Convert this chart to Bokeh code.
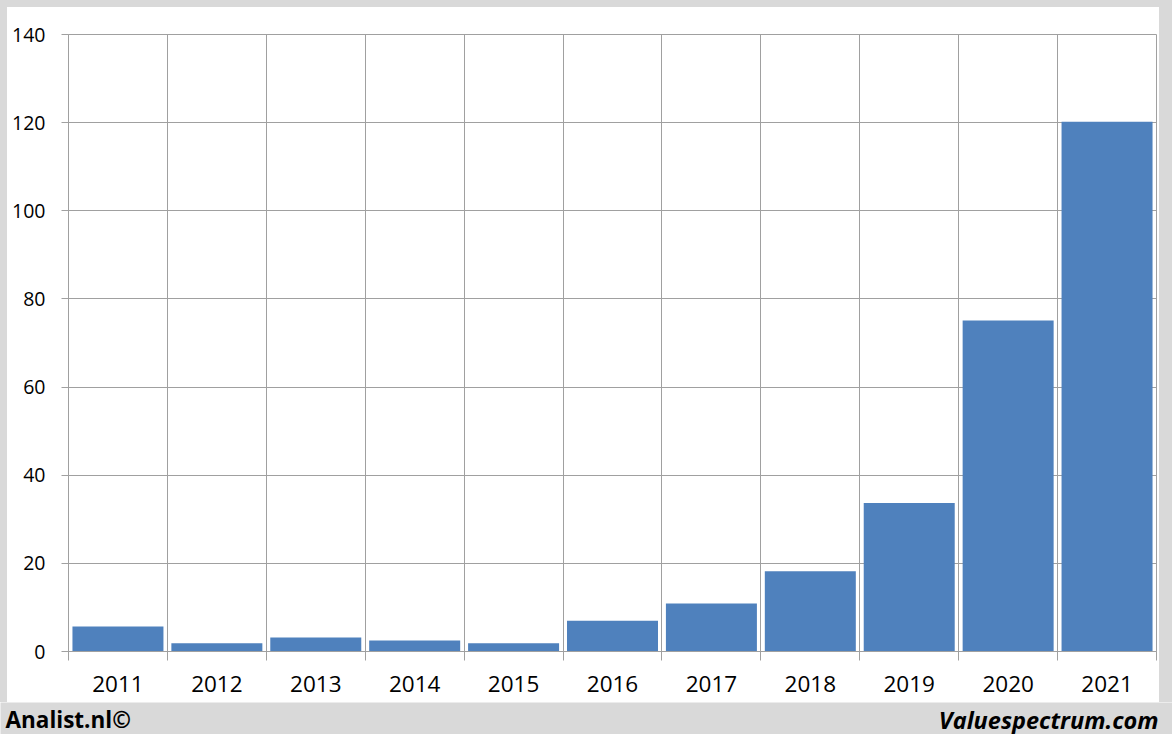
from bokeh.plotting import figure
from bokeh.models import FixedTicker, Label, ColumnDataSource, Spacer, Range1d
from bokeh.layouts import column, row
from bokeh.embed import file_html
from bokeh.resources import INLINE

# ---- data ----
years = ["2011", "2012", "2013", "2014", "2015", "2016", "2017", "2018", "2019", "2020", "2021"]
values = [5.7, 1.9, 3.2, 2.5, 1.9, 7.0, 10.9, 18.2, 33.7, 75.1, 120.2]
y_ticks = [0, 20, 40, 60, 80, 100, 120, 140]
left_note = "Analist.nl©"
right_note = "Valuespectrum.com"

# ---- layout constants (pixels) ----
PAGE_W, PAGE_H = 1172, 734
EDGE_L, EDGE_T, EDGE_R, FOOT_H = 7, 7, 13, 32
W = PAGE_W - EDGE_L - EDGE_R          # main chart panel width
H = PAGE_H - EDGE_T - FOOT_H          # main chart panel height
FRAME_L, FRAME_T, FRAME_R, FRAME_B = 61, 27, 3, 51
Y_MAX = y_ticks[-1]
n = len(years)

GRID = "#a0a0a0"
BAR = "#4f81bd"
GRAY = "#d9d9d9"
FONT = "Open Sans"
gray_style = {"background-color": GRAY}

p = figure(width=W, height=H, x_range=(-0.5, n - 0.5), y_range=(0, Y_MAX),
           output_backend="svg", toolbar_location=None,
           min_border_left=FRAME_L, min_border_right=FRAME_R,
           min_border_top=FRAME_T, min_border_bottom=FRAME_B,
           border_fill_color="white", background_fill_color="white",
           outline_line_color=GRID)

src = ColumnDataSource(dict(x=list(range(n)), top=values, year=years))
p.vbar(x="x", top="top", width=0.92, source=src, fill_color=BAR, line_color=None)

boundaries = [i - 0.5 for i in range(n + 1)]

# x axis
p.xaxis.ticker = FixedTicker(ticks=list(range(n)), minor_ticks=boundaries)
p.xaxis.major_label_overrides = {i: y for i, y in enumerate(years)}
p.xaxis.major_tick_out = 0
p.xaxis.major_tick_in = 0
p.xaxis.minor_tick_out = 9
p.xaxis.minor_tick_in = 0
p.xaxis.minor_tick_line_color = GRID
p.xaxis.axis_line_color = GRID
p.xaxis.major_label_standoff = 15
p.xaxis.major_label_text_font = FONT
p.xaxis.major_label_text_font_size = "22.5px"
p.xaxis.major_label_text_color = "black"

# y axis
p.yaxis.ticker = FixedTicker(ticks=y_ticks)
p.yaxis.major_tick_out = 7
p.yaxis.major_tick_in = 0
p.yaxis.minor_tick_out = 0
p.yaxis.minor_tick_in = 0
p.yaxis.major_tick_line_color = GRID
p.yaxis.axis_line_color = GRID
p.yaxis.major_label_standoff = 16
p.yaxis.major_label_text_font = FONT
p.yaxis.major_label_text_font_size = "19.5px"
p.yaxis.major_label_text_color = "black"

# grids
p.xgrid.ticker = FixedTicker(ticks=boundaries)
p.xgrid.grid_line_color = GRID
p.ygrid.grid_line_color = GRID

# footer strip as its own small figure (pixel coordinates)
foot = figure(width=PAGE_W, height=FOOT_H, x_range=Range1d(0, PAGE_W),
              y_range=Range1d(FOOT_H, 0), output_backend="svg",
              toolbar_location=None, x_axis_type=None, y_axis_type=None,
              min_border=0, min_border_left=0, min_border_right=0,
              min_border_top=0, min_border_bottom=0,
              background_fill_color=GRAY, border_fill_color=GRAY,
              outline_line_color=None)
foot.xgrid.visible = False
foot.ygrid.visible = False
foot.add_layout(Label(x=5, y=17, text=left_note,
                      text_align="left", text_baseline="middle",
                      text_font=FONT, text_font_size="22.5px",
                      text_font_style="bold", text_color="black"))
foot.add_layout(Label(x=1158, y=17, text=right_note,
                      text_align="right", text_baseline="middle",
                      text_font=FONT, text_font_size="23.5px",
                      text_font_style="bold italic", text_color="black"))

page = column(
    Spacer(width=PAGE_W, height=EDGE_T, styles=gray_style),
    row(Spacer(width=EDGE_L, height=H, styles=gray_style), p,
        Spacer(width=EDGE_R, height=H, styles=gray_style), spacing=0),
    foot,
    spacing=0,
)

open("out.html", "w").write(file_html(page, INLINE))
